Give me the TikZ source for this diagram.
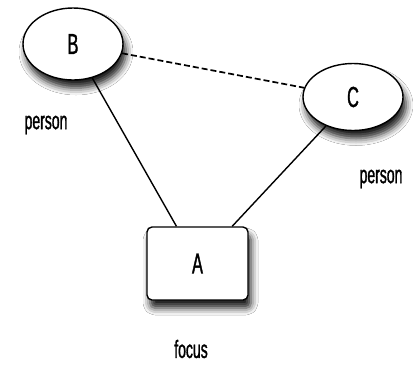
\documentclass[tikz,border=0pt]{standalone}
\usepackage{fontspec}
\setmainfont{Liberation Sans}[FakeStretch=0.56, FakeBold=1.2]
\usetikzlibrary{shapes.geometric,shadows.blur}
\tikzset{
  soft/.style={blur shadow={shadow xshift=3pt, shadow yshift=-8pt, shadow blur radius=7pt, shadow opacity=90}},
  personnode/.style={ellipse, draw, line width=1.4pt, fill=white, inner sep=0pt, soft, font=\fontsize{29}{30}\selectfont},
  focusnode/.style={rectangle, rounded corners=5pt, draw, line width=1.4pt, fill=white, inner sep=0pt, soft, font=\fontsize{29}{30}\selectfont},
  tag/.style={font=\fontsize{25}{26}\selectfont},
  tie/.style={line width=1.4pt},
}
\begin{document}
\begin{tikzpicture}[x=1pt, y=-1pt]
  \useasboundingbox (0,0) rectangle (414,365);
  \fill[white] (0,0) rectangle (414,365);
  % the three actors
  \node[personnode, minimum width=100pt, minimum height=72pt] (B) at (73,44) {B};
  \node[personnode, minimum width=100pt, minimum height=67pt] (C) at (353,97) {C};
  \node[focusnode, minimum width=101pt, minimum height=73pt] (A) at (197.5,263.5) {A};
  % ties
  \draw[tie] (B) -- (A);
  \draw[tie] (C) -- (A);
  \draw[tie, line width=1.7pt, dash pattern=on 6pt off 3pt] (B) -- (C);
  % role captions
  \node[tag] (lb) at (46,125) {person};
  \node[tag] (lc) at (381,179) {person};
  \node[tag] (la) at (191,349) {focus};
\end{tikzpicture}
\end{document}
